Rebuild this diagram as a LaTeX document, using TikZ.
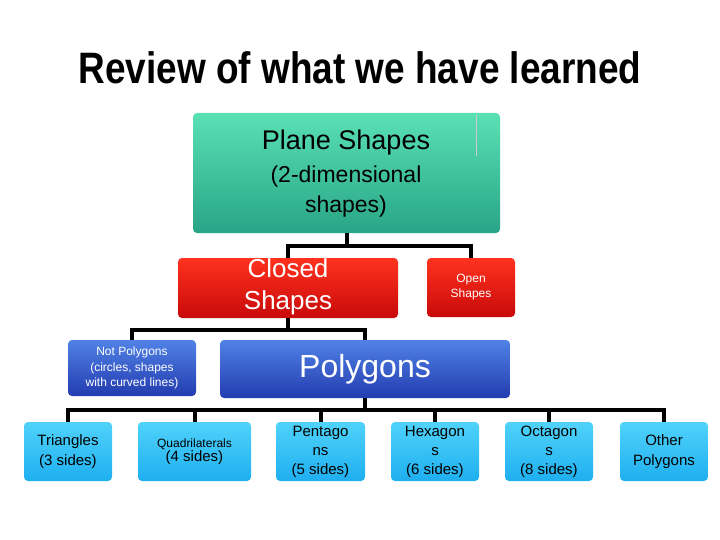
\documentclass[tikz,border=0pt]{standalone}
\usepackage{fontspec}
\setmainfont{Liberation Sans}
\begin{document}
\begin{tikzpicture}[x=1pt,y=-1pt,
 box/.style={rounded corners=4pt,inner sep=2pt,align=center,draw=none},
 teal/.style={box,top color={rgb,255:red,90;green,225;blue,180},bottom color={rgb,255:red,40;green,165;blue,135}},
 redb/.style={box,top color={rgb,255:red,255;green,50;blue,30},bottom color={rgb,255:red,200;green,10;blue,10},text=white},
 blueb/.style={box,top color={rgb,255:red,80;green,130;blue,230},bottom color={rgb,255:red,35;green,60;blue,175},text=white},
 cyanb/.style={box,top color={rgb,255:red,80;green,210;blue,250},bottom color={rgb,255:red,30;green,175;blue,240},text=black},
 conn/.style={line width=4pt}]
\useasboundingbox (0,0) rectangle (720,540);
\node (title) at (360,68) {\fontsize{44}{48}\selectfont\bfseries\addfontfeature{FakeStretch=0.84}Review of what we have learned};
\node[teal,minimum width=307pt,minimum height=120pt] (plane) at (346.5,173) {};
\node at (346,143) {\fontsize{27}{30}\selectfont Plane Shapes};
\node[align=center,font=\fontsize{23}{30}\selectfont] at (346,192) {(2-dimensional\\shapes)};
\draw[gray!40,line width=1pt] (476,115) -- (476,156);
\node[redb,minimum width=220pt,minimum height=60pt] (closed) at (288,288) {};
\node[align=center,text=white,font=\fontsize{26}{32}\selectfont] at (288,287) {Closed\\Shapes};
\node[redb,minimum width=88pt,minimum height=59pt,font=\fontsize{12}{15}\selectfont] (open) at (471,287.5) {Open\\Shapes};
\node[blueb,minimum width=128pt,minimum height=56pt,font=\fontsize{12}{15.5}\selectfont] (notpoly) at (132,368) {Not Polygons\\(circles, shapes\\with curved lines)};
\node[blueb,minimum width=290pt,minimum height=58pt,font=\fontsize{32}{36}\selectfont] (poly) at (365,369) {Polygons};
\node[cyanb,minimum width=88pt,minimum height=59pt,font=\fontsize{15}{20}\selectfont] (tri) at (68,451.5) {Triangles\\(3 sides)};
\node[cyanb,minimum width=113pt,minimum height=59pt] (quad) at (194.5,451.5) {\fontsize{12}{20}\selectfont Quadrilaterals\\\fontsize{15}{15}\selectfont(4 sides)};
\node[cyanb,minimum width=89pt,minimum height=59pt,font=\fontsize{15}{19}\selectfont] (pent) at (320.5,451.5) {Pentago\\ns\\(5 sides)};
\node[cyanb,minimum width=88pt,minimum height=59pt,font=\fontsize{15}{19}\selectfont] (hex) at (435,451.5) {Hexagon\\s\\(6 sides)};
\node[cyanb,minimum width=88pt,minimum height=59pt,font=\fontsize{15}{19}\selectfont] (oct) at (549,451.5) {Octagon\\s\\(8 sides)};
\node[cyanb,minimum width=88pt,minimum height=59pt,font=\fontsize{15}{20}\selectfont] (oth) at (664,451.5) {Other\\Polygons};
\draw[conn] (plane.south) -- ++(0,13) coordinate (j1);
\draw[conn] (closed.north) |- (j1) -| (open.north);
\draw[conn] (closed.south) -- ++(0,12) coordinate (j2);
\draw[conn] (notpoly.north) |- (j2) -| (poly.north);
\draw[conn] (poly.south) -- ++(0,12) coordinate (j3);
\draw[conn] (tri.north) |- (j3) -| (oth.north);
\foreach \n in {quad,pent,hex,oct} \draw[conn] (\n.north) -- (\n.north |- j3);
\end{tikzpicture}
\end{document}
